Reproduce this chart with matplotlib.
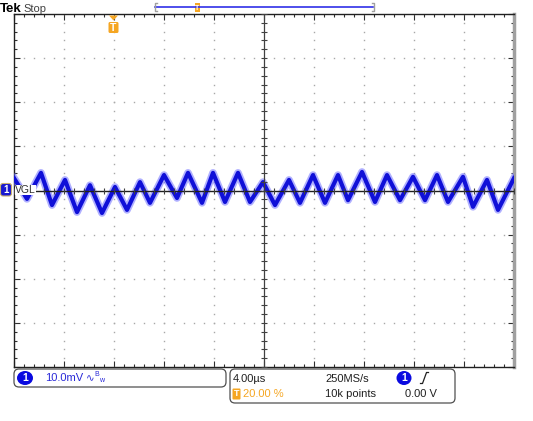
import numpy as np
import matplotlib.pyplot as plt
from matplotlib.patches import FancyBboxPatch, Ellipse, Polygon

# channel 1 trace: time from left edge (us) and level (mV)
t_us = [0.0, 1.04, 2.16, 3.04, 4.08, 5.04, 6.08, 7.04, 8.08, 9.04,
        10.08, 10.88, 12.0, 13.04, 13.92, 15.04, 15.92, 16.88, 17.92, 18.88,
        19.92, 20.88, 22.0, 22.88, 23.92, 24.88, 25.92, 26.72, 27.84, 28.88,
        29.84, 30.88, 31.92, 32.88, 33.84, 34.72, 35.92, 36.72, 37.84, 38.72, 40.0]
v_mv = [2.8, -1.9, 4.0, -3.3, 2.4, -4.9, 1.2, -5.1, 0.8, -4.4,
        1.9, -2.8, 3.5, -1.7, 4.0, -2.8, 4.0, -2.6, 4.0, -2.6,
        1.9, -3.3, 2.4, -2.8, 3.5, -2.8, 3.5, -2.2, 4.2, -2.6,
        3.5, -2.2, 3.1, -2.2, 3.5, -2.6, 3.1, -3.7, 2.4, -4.4, 2.8]

# scope settings
us_per_div = 4.0
mv_per_div = 10.0
n_xdiv, n_ydiv = 10, 8
ch_label = "VGL"
scale_text = "10.0mV"
time_text = "4.00\u00b5s"
rate_text = "250MS/s"
trig_pos_text = "20.00 %"
points_text = "10k points"
trig_level_text = "0.00 V"

W, H = 533, 421
plt.rcParams["font.family"] = ["Liberation Sans", "DejaVu Sans"]

fig = plt.figure(figsize=(W / 100, H / 100), dpi=100)
ax = fig.add_axes([14 / W, 1 - 367 / H, 500 / W, 353 / H])
xmax = us_per_div * n_xdiv
ymax = mv_per_div * n_ydiv / 2
ax.set_xlim(0, xmax)
ax.set_ylim(-ymax, ymax)

# graticule
ax.set_xticks(np.arange(0, xmax + 0.01, us_per_div))
ax.set_xticks(np.arange(0, xmax + 0.01, us_per_div / 5), minor=True)
ax.set_yticks(np.arange(-ymax, ymax + 0.01, mv_per_div))
ax.set_yticks(np.arange(-ymax, ymax + 0.01, mv_per_div / 5), minor=True)
ax.tick_params(which="both", direction="in", top=True, right=True,
               labelbottom=False, labelleft=False, color="#303030", width=0.8)
ax.tick_params(which="major", length=4)
ax.tick_params(which="minor", length=2.5)
for s in ["top", "left", "bottom"]:
    ax.spines[s].set_color("#202020")
    ax.spines[s].set_linewidth(1.0)
ax.spines["right"].set_color("#a0a0a0")
ax.spines["right"].set_linewidth(2.5)

xs_minor = np.arange(0, xmax + 0.01, us_per_div / 5)
ys_minor = np.arange(-ymax, ymax + 0.01, mv_per_div / 5)
for gx in np.arange(us_per_div, xmax, us_per_div):
    if abs(gx - xmax / 2) > 1e-6:
        ax.plot(np.full_like(ys_minor, gx), ys_minor, ls="none", marker="s",
                ms=1.0, color="#a8a8a8", mew=0)
for gy in np.arange(-ymax + mv_per_div, ymax, mv_per_div):
    if abs(gy) > 1e-6:
        ax.plot(xs_minor, np.full_like(xs_minor, gy), ls="none", marker="s",
                ms=1.0, color="#a8a8a8", mew=0)

# trace
ax.plot(t_us, v_mv, color="#7070ff", lw=5.5, alpha=0.55, solid_joinstyle="round", zorder=3)
ax.plot(t_us, v_mv, color="#1010d8", lw=3.0, solid_joinstyle="round", zorder=4)

# center lines with ticks
ax.axvline(xmax / 2, color="#404040", lw=0.9, zorder=5)
ax.axhline(0, color="#202020", lw=1.0, zorder=5)
ax.plot(xs_minor, np.zeros_like(xs_minor), ls="none", marker="|", ms=4,
        color="#404040", mew=0.8, zorder=5)
ax.plot(np.full_like(ys_minor, xmax / 2), ys_minor, ls="none", marker="_", ms=4,
        color="#404040", mew=0.8, zorder=5)

# overlay in pixel coordinates for the screen annotations
ov = fig.add_axes([0, 0, 1, 1], zorder=10)
ov.set_xlim(0, W)
ov.set_ylim(H, 0)
ov.axis("off")
ov.patch.set_alpha(0)

orange = "#f5a623"
blue = "#0a0ae0"

ov.text(0, 8.5, "Tek", fontsize=9.5, fontweight="bold", va="center", ha="left")
ov.text(23, 8.5, "Stop", fontsize=8, color="#404040", va="center", ha="left")

# record bar
ov.plot([155, 373], [6.5, 6.5], color="#3030e8", lw=1.2)
ov.plot([156.5, 154.5, 154.5, 156.5], [2.5, 2.5, 11, 11], color="#a0a0a0", lw=1)
ov.plot([371.5, 373.5, 373.5, 371.5], [2.5, 2.5, 11, 11], color="#a0a0a0", lw=1)
ov.add_patch(FancyBboxPatch((195, 3), 5, 9, boxstyle="square,pad=0", fc=orange, ec="none"))
ov.text(197.5, 8, "T", fontsize=5, color="white", ha="center", va="center", fontweight="bold")

# trigger position marker
ov.add_patch(Polygon([(109, 15.5), (118, 15.5), (113.5, 20.5)], closed=True, fc=orange, ec="none"))
ov.add_patch(FancyBboxPatch((108.5, 22), 10, 11, boxstyle="round,pad=0,rounding_size=1.5",
                            fc=orange, ec="none"))
ov.text(113.5, 27.8, "T", fontsize=7.5, color="white", ha="center", va="center", fontweight="bold")

# channel 1 ground marker + label
ov.add_patch(FancyBboxPatch((0.5, 183.5), 11, 12.5, boxstyle="round,pad=0,rounding_size=2.5",
                            fc="#1818d0", ec="#c8b070", lw=0.8))
ov.text(6, 190, "1", fontsize=7, color="white", ha="center", va="center", fontweight="bold")
ov.text(15, 190, ch_label, fontsize=7.5, color="#303030", ha="left", va="center",
        bbox=dict(fc="white", ec="none", pad=0.3))

# bottom status boxes
ov.add_patch(FancyBboxPatch((14, 369), 212, 18, boxstyle="round,pad=0,rounding_size=5",
                            fc="white", ec="#505050", lw=0.9))
ov.add_patch(Ellipse((25, 378), 16, 14, fc=blue, ec="none"))
ov.text(25, 378, "1", fontsize=7.5, color="white", ha="center", va="center", fontweight="bold")
ov.text(45, 378, scale_text, fontsize=8, color="#2a2ad8", ha="left", va="center")
ov.text(86, 378, "\u223f", fontsize=7.5, color="#2a2ad8", ha="left", va="center", family=["DejaVu Sans"])
ov.text(94, 374.5, "B", fontsize=5, color="#2a2ad8", ha="left", va="center")
ov.text(99, 381, "w", fontsize=5, color="#2a2ad8", ha="left", va="center")

ov.add_patch(FancyBboxPatch((230, 369), 225, 34, boxstyle="round,pad=0,rounding_size=5",
                            fc="white", ec="#505050", lw=0.9))
ov.text(233, 379.5, time_text, fontsize=8, color="#202020", ha="left", va="center")
ov.text(325, 379.5, rate_text, fontsize=8, color="#202020", ha="left", va="center")
ov.add_patch(Ellipse((404, 378), 15, 14, fc=blue, ec="none"))
ov.text(404, 378, "1", fontsize=7.5, color="white", ha="center", va="center", fontweight="bold")
ov.plot([420.5, 422.5, 426.5, 428.5], [383.5, 383.5, 372.5, 372.5], color="#202020", lw=0.9)
ov.add_patch(FancyBboxPatch((232.5, 388.5), 8, 11, boxstyle="round,pad=0,rounding_size=1",
                            fc=orange, ec="none"))
ov.text(236.5, 394, "T", fontsize=6.5, color="white", ha="center", va="center", fontweight="bold")
ov.text(243, 394, trig_pos_text, fontsize=8, color=orange, ha="left", va="center")
ov.text(325, 394, points_text, fontsize=8, color="#202020", ha="left", va="center")
ov.text(405, 394, trig_level_text, fontsize=8, color="#202020", ha="left", va="center")

fig.savefig("out.png", dpi=100)
